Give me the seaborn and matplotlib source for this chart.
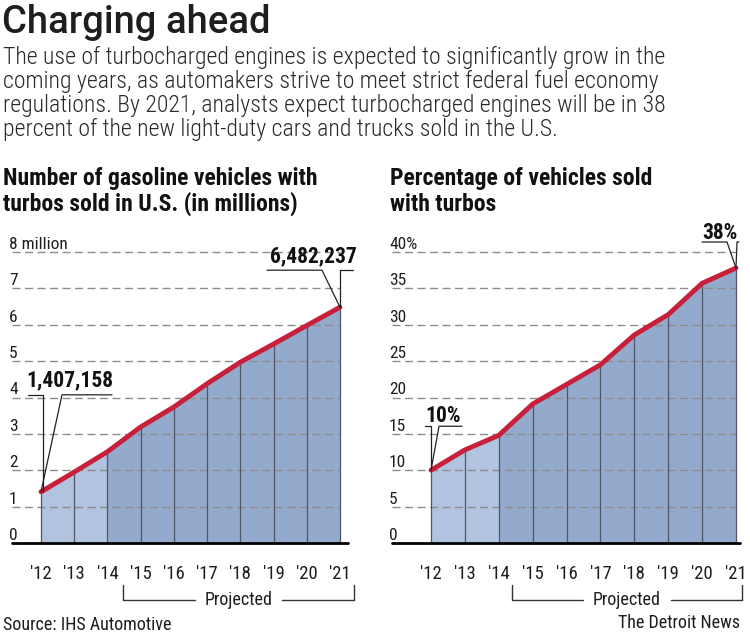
import matplotlib
matplotlib.use("Agg")
import matplotlib.pyplot as plt
import matplotlib.transforms as mtransforms
from matplotlib.lines import Line2D
import seaborn as sns

# Data
YEARS = [2012, 2013, 2014, 2015, 2016, 2017, 2018, 2019, 2020, 2021]
YEAR_LABELS = ["'12", "'13", "'14", "'15", "'16", "'17", "'18", "'19", "'20", "'21"]
TURBO_MILLIONS = [1.407158, 1.95, 2.51, 3.19, 3.74, 4.38, 4.97, 5.47, 5.98, 6.482237]
TURBO_SHARE = [10.0, 12.8, 14.8, 19.1, 21.8, 24.5, 28.6, 31.4, 35.7, 37.8]
MILLION_TICKS = [0, 1, 2, 3, 4, 5, 6, 7, 8]
MILLION_TICK_LABELS = ["0", "1", "2", "3", "4", "5", "6", "7", "8 million"]
SHARE_TICKS = [0, 5, 10, 15, 20, 25, 30, 35, 40]
SHARE_TICK_LABELS = ["0", "5", "10", "15", "20", "25", "30", "35", "40%"]
ACTUAL_END = 2014  # first projected year boundary

sns.set_theme(style="white")
plt.rcParams['font.family'] = ['Roboto Condensed', 'Roboto', 'DejaVu Sans']
plt.rcParams['font.stretch'] = 'condensed'

W, H = 750, 641
TEXT = '#1e1e1e'
LIGHT_FILL = '#b1c3de'
DARK_FILL = '#93aacd'
RED = '#c8203a'
GRID = '#8c8c8c'


def fx(x):
    return x / W


def fy(y):
    return 1 - y / H


fig = plt.figure(figsize=(W / 100, H / 100), dpi=100)
fig.patch.set_facecolor('white')

# Header text
fig.text(fx(2), fy(33), "Charging ahead", fontsize=27.5, color=TEXT,
         family=['Roboto', 'DejaVu Sans'], stretch='normal', fontweight='medium',
         va='baseline', ha='left')
body = [
    "The use of turbocharged engines is expected to significantly grow in the",
    "coming years, as automakers strive to meet strict federal fuel economy",
    "regulations. By 2021, analysts expect turbocharged engines will be in 38",
    "percent of the new light-duty cars and trucks sold in the U.S.",
]
for i, line in enumerate(body):
    fig.text(fx(3), fy(64 + 24 * i), line, fontsize=17.1, color='#2a2a2a',
             fontweight='light', va='baseline', ha='left')

for x0, lines in [(3, ["Number of gasoline vehicles with",
                       "turbos sold in U.S. (in millions)"]),
                  (390, ["Percentage of vehicles sold", "with turbos"])]:
    for i, line in enumerate(lines):
        fig.text(fx(x0), fy(185 + 26 * i), line, fontsize=17, fontweight='bold',
                 color='#111111', va='baseline', ha='left')


def draw_panel(ax, values, ticks, tick_labels, xlim, ymax, bracket):
    ax.set_xlim(*xlim)
    ax.set_ylim(0, ymax)
    for s in ax.spines.values():
        s.set_visible(False)
    ax.set_facecolor('none')

    ax.fill_between(YEARS[:3], 0, values[:3], color=LIGHT_FILL, lw=0, zorder=1)
    ax.fill_between(YEARS[2:], 0, values[2:], color=DARK_FILL, lw=0, zorder=1)
    ax.hlines(ticks[1:], xlim[0], YEARS[-1], colors=GRID, lw=1.0,
              linestyles=(0, (5.8, 3.2)), zorder=2, clip_on=False)
    ax.vlines(YEARS, 0, values, colors='#4e5668', lw=0.9, zorder=3)
    sns.lineplot(x=YEARS, y=values, ax=ax, color=RED, lw=3.5, zorder=4,
                 solid_capstyle='round')
    ax.axhline(0, color='black', lw=2.0, zorder=5, clip_on=False)

    # y labels sit just above the gridlines
    lab_tr = mtransforms.offset_copy(
        mtransforms.blended_transform_factory(ax.transAxes, ax.transData),
        fig=fig, x=-3, y=3, units='dots')
    for t, lab in zip(ticks, tick_labels):
        ax.text(0, t, lab, transform=lab_tr, fontsize=12.5, color=TEXT,
                ha='left', va='baseline')

    ax.set_yticks([])
    ax.set_xticks(YEARS, YEAR_LABELS)
    ax.tick_params(axis='x', length=0, pad=16, labelsize=13.5, labelcolor=TEXT)

    # "Projected" bracket
    br = mtransforms.blended_transform_factory(ax.transData, fig.transFigure)
    left_x, right_x = bracket
    mid = (left_x + right_x) / 2
    y_top, y_bot = fy(585), fy(600)
    ax.add_line(Line2D([left_x, left_x, mid - 1.3], [y_top, y_bot, y_bot],
                       transform=br, color='#333333', lw=1.0, clip_on=False))
    ax.add_line(Line2D([mid + 1.3, right_x, right_x], [y_bot, y_bot, y_top],
                       transform=br, color='#333333', lw=1.0, clip_on=False))
    ax.text(mid, fy(605), "Projected", transform=br, fontsize=13, color=TEXT,
            ha='center', va='baseline')


def callout(ax, x, y, text, segs, label_dx, label_dy):
    """Draw a pointer callout; offsets are in image pixels (y down) from the point."""
    px, py = ax.transData.transform((x, y))
    for seg in segs:
        xs = [(px + dx) / W for dx, dy in seg]
        ys = [(py - dy) / H for dx, dy in seg]
        fig.add_artist(Line2D(xs, ys, transform=fig.transFigure,
                              color='#222222', lw=0.9))
    fig.text((px + label_dx) / W, (py - label_dy) / H, text, fontsize=15.5,
             fontweight='bold', color='#111111', ha='center', va='baseline')


ax1 = fig.add_axes([fx(12), fy(543), (348 - 12) / W, (543 - 252) / H])
step1 = (340 - 41) / 9
draw_panel(ax1, TURBO_MILLIONS, MILLION_TICKS, MILLION_TICK_LABELS,
           (2012 - 29 / step1, 2021 + 8 / step1), 8, (2014.48, 2021.42))

ax2 = fig.add_axes([fx(392), fy(543), (740 - 392) / W, (543 - 252) / H])
step2 = (736 - 431) / 9
draw_panel(ax2, TURBO_SHARE, SHARE_TICKS, SHARE_TICK_LABELS,
           (2012 - 39 / step2, 2021 + 4 / step2), 40, (2014.38, 2021.18))

callout(ax1, YEARS[0], TURBO_MILLIONS[0], "1,407,158",
        [[(-13, -97), (2, -97), (2, 0)], [(0, 0), (21, -97), (71, -97)]], 29, -106)
callout(ax1, YEARS[-1], TURBO_MILLIONS[-1], "6,482,237",
        [[(-73, -37), (-18, -37), (0, 0)], [(0, 0), (0, -37), (13, -37)]], -27, -45)
callout(ax2, YEARS[0], TURBO_SHARE[0], "10%",
        [[(-6, -44), (0, -44), (0, 0)], [(0, 0), (8, -44), (31, -44)]], 12, -48)
callout(ax2, YEARS[-1], TURBO_SHARE[-1], "38%",
        [[(-34, -26), (-9, -26), (0, 0)], [(0, 0), (1, -26), (3, -26)]], -16, -29)

fig.text(fx(3), fy(630), "Source: IHS Automotive", fontsize=13, color=TEXT,
         ha='left', va='baseline')
fig.text(fx(740), fy(628), "The Detroit News", fontsize=13, color=TEXT,
         ha='right', va='baseline')

fig.savefig('out.png', dpi=100, facecolor='white')
